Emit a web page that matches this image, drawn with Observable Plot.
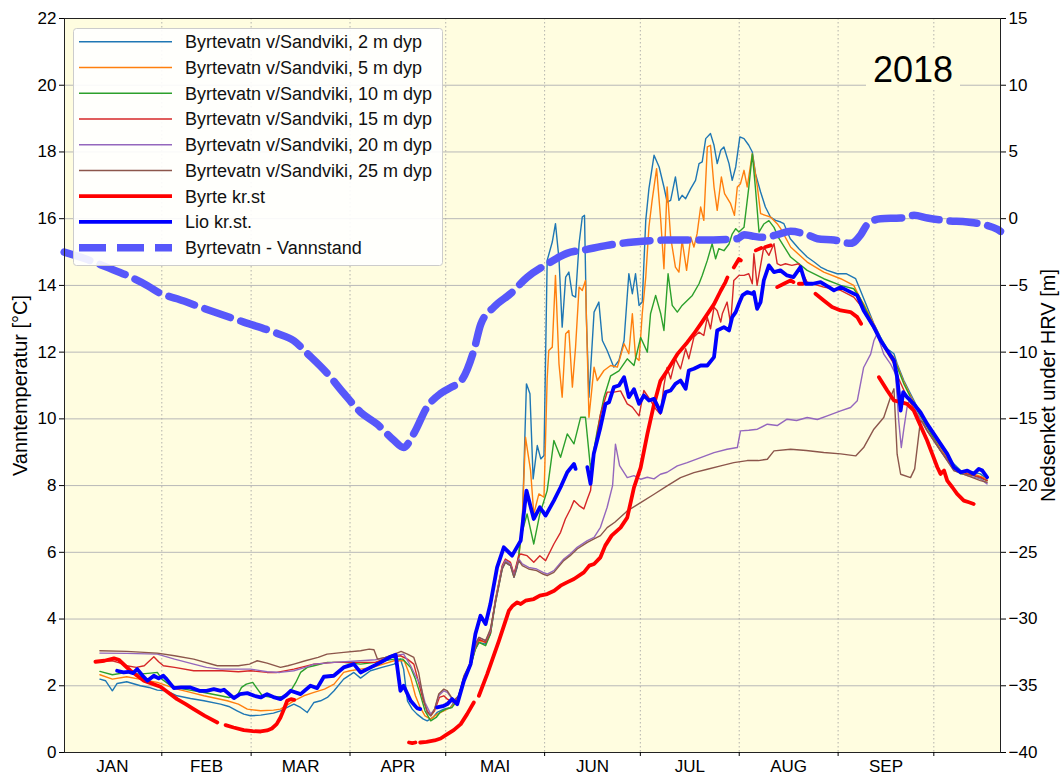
<!DOCTYPE html>
<html>
<head>
<meta charset="utf-8">
<script src="https://cdn.jsdelivr.net/npm/d3@7"></script>
<script src="https://cdn.jsdelivr.net/npm/@observablehq/plot@0.6"></script>
<style>
  body { margin: 0; background: #fff; }
  #chart { position: relative; width: 1063px; height: 778px; }
</style>
</head>
<body>
<div id="chart"></div>
<script>
// ---------- data (day of year, Jan 1 = 0) ----------
const monthLabels = ["JAN","FEB","MAR","APR","MAI","JUN","JUL","AUG","SEP"];
const monthMids = [15.5, 45, 74.5, 105, 135.5, 166, 196.5, 227.5, 258];
const monthStarts = [31, 59, 90, 120, 151, 181, 212, 243, 273];
const tempTicks = [0,2,4,6,8,10,12,14,16,18,20,22];
const yearLabel = "2018";

const seriesNames = [
  "Byrtevatn v/Sandviki, 2 m dyp",
  "Byrtevatn v/Sandviki, 5 m dyp",
  "Byrtevatn v/Sandviki, 10 m dyp",
  "Byrtevatn v/Sandviki, 15 m dyp",
  "Byrtevatn v/Sandviki, 20 m dyp",
  "Byrtevatn v/Sandviki, 25 m dyp",
  "Byrte kr.st",
  "Lio kr.st.",
  "Byrtevatn - Vannstand"
];

const d2m = [[11.6,2.2],[13.4,2.15],[15.5,1.85],[17,2.07],[20,2.12],[24.3,2.0],[27,1.95],[29.6,1.87],[32.5,1.85],[35.8,1.7],[40,1.62],[44.2,1.55],[49.4,1.45],[52,1.38],[54.6,1.25],[56.7,1.15],[58.8,1.1],[62,1.12],[64,1.15],[66,1.18],[68.2,1.25],[70.3,1.35],[72.4,1.45],[74.5,1.35],[76.6,1.2],[78.7,1.5],[80.8,1.55],[82.9,1.65],[85,1.85],[88,2.2],[91.2,2.4],[93.3,2.23],[96.4,2.45],[100,2.55],[103.8,2.65],[105.8,2.8],[106.8,2.5],[108,1.55],[109.5,1.3],[111,1.15],[113,1.0],[114.2,0.95],[116,1.05],[117.3,1.2],[119.4,1.3],[121.5,1.35],[122.5,1.5],[124.1,1.6],[125.7,2.2],[127.8,2.6],[129.3,3.1],[130.4,3.3],[132.5,3.25],[134,3.55],[135.6,4.5],[137.7,5.5],[138.7,5.7],[140.3,5.6],[141.4,5.25],[142.4,5.55],[144,6.85],[145.3,11.05],[146.4,10.75],[147.4,8.2],[148.7,9.2],[149.8,8.8],[150.8,8.9],[151.8,14.75],[153.4,15.3],[154.4,15.85],[155.5,14.8],[156.5,12.75],[157.6,14.25],[158.6,14.4],[159.7,13.7],[160.7,13.65],[161.8,15.25],[162.8,16.05],[163.5,16.1],[164.1,13.0],[164.9,10.65],[166.5,13.2],[168,13.5],[169.1,12.35],[170.6,12.05],[172.7,11.55],[174.3,11.75],[175.9,12.35],[177.4,14.35],[178.5,13.75],[179.5,14.35],[180.6,13.4],[181.6,13.5],[182.7,15.95],[183.7,16.9],[185.3,17.9],[186.9,17.55],[188.4,16.95],[189.4,16.5],[190.5,16.55],[192,17.25],[193.1,16.55],[194.1,16.7],[195.2,16.6],[196.8,16.9],[198.3,17.15],[199.4,17.65],[200.4,17.7],[201.5,18.4],[203,18.55],[204.1,18.2],[205.1,17.65],[206.2,18.05],[207.2,18.15],[208.8,17.65],[209.8,17.15],[210.9,17.55],[212.2,18.45],[213.5,18.4],[215,18.2],[216.1,18.0],[217.1,17.35],[218.7,16.8],[220.2,16.35],[221.8,16.05],[223.4,15.95],[225,15.9],[226,15.85],[228,15.4],[230.7,15.1],[233.3,14.85],[235.5,14.7],[237.5,14.55],[239.6,14.45],[242.7,14.35],[245.5,14.35],[248.5,14.2],[250,13.85],[252.1,13.35],[254.2,12.85],[256.3,12.45],[258.4,12.1],[260.5,11.95],[261.5,11.65],[263.6,11.15],[265.7,10.75],[267.8,10.35],[270.9,9.85],[275.1,9.15],[278.2,8.75],[281.4,8.45],[285.5,8.4],[287.6,8.35],[289.7,8.2]];

const d5m = [[11.6,2.33],[15.5,2.2],[20,2.27],[24,2.2],[29.6,2.1],[35.8,1.9],[40,1.8],[44.2,1.7],[51.5,1.55],[55,1.45],[57.8,1.3],[62,1.25],[66,1.27],[68.2,1.3],[72.4,1.55],[75.5,1.7],[78.7,1.8],[82,1.9],[85,2.05],[88,2.4],[90,2.45],[93.3,2.5],[97,2.55],[103.8,2.75],[107,2.75],[109,2.25],[110.5,1.7],[112,1.35],[113.5,1.1],[115.3,1.0],[117.3,1.15],[119.4,1.25],[121.5,1.35],[122.5,1.45],[124.1,1.6],[125.7,2.2],[127.8,2.6],[129.3,3.15],[130.4,3.35],[132.5,3.3],[134,3.6],[135.6,4.55],[137.7,5.55],[138.7,5.75],[140.3,5.65],[141.4,5.3],[142.9,5.85],[144,7.0],[145,9.45],[146.6,8.45],[147.6,7.15],[149.2,7.75],[150.8,7.65],[151.8,11.2],[152.3,12.05],[153.4,12.15],[154.4,14.3],[155.5,11.65],[156.5,10.65],[157.6,12.55],[158.6,12.65],[159.7,10.95],[160.7,12.15],[161.8,13.95],[162.8,13.85],[163.8,14.15],[164.9,10.05],[166.5,11.55],[167.5,11.15],[169.6,11.45],[171.7,11.6],[173.8,11.55],[175.9,12.25],[177.4,11.95],[178.5,13.15],[179.5,11.85],[180.6,11.75],[181.6,13.15],[182.7,14.25],[183.7,15.75],[184.7,16.55],[186.1,17.5],[187.4,15.95],[188.4,14.5],[189.4,16.95],[190.5,15.45],[192,14.55],[193.1,14.4],[194.1,15.35],[195.5,14.45],[196.8,15.45],[197.8,15.15],[198.8,15.55],[199.9,16.35],[200.9,15.95],[202,18.15],[203,18.2],[204.1,16.95],[205.1,16.25],[206.4,17.25],[207.4,16.75],[209.3,16.45],[210.5,16.1],[211.4,16.95],[212.4,17.05],[213.5,17.45],[214.5,16.95],[216.1,17.95],[217.7,16.95],[218.7,16.15],[220.2,16.1],[221.8,16.05],[223.9,15.85],[225,15.7],[228.1,15.15],[233.3,14.7],[238.5,14.4],[243.8,14.2],[247.9,14.0],[250,13.6],[251,13.45],[254.2,12.85],[256.3,12.4],[258.4,12.05],[260.5,11.85],[263.6,11.1],[265.7,10.7],[267.8,10.3],[270.9,9.8],[275.1,9.1],[278.2,8.7],[281.4,8.4],[285.5,8.35],[289.7,8.2]];

const d10m = [[11.6,2.43],[15.5,2.33],[20,2.4],[24,2.35],[27.5,2.38],[29.6,2.4],[31,2.2],[33.8,2.0],[38,1.9],[44.2,1.8],[49.4,1.7],[52,1.65],[54.6,1.7],[56,1.95],[57.5,2.05],[59.5,2.1],[61,1.9],[62.5,1.7],[66,1.65],[69,1.68],[71.4,1.85],[73,2.1],[74.5,2.4],[76.6,2.55],[78.7,2.6],[82.9,2.7],[88,2.7],[93.3,2.65],[98,2.7],[103.8,2.8],[106.5,2.8],[109,2.55],[110.5,2.2],[112,1.75],[113.5,1.25],[115.3,0.95],[117,1.05],[118.2,1.2],[120,1.3],[122,1.35],[123.5,1.55],[125.7,2.2],[127.8,2.6],[129.3,3.1],[130.4,3.3],[132.5,3.2],[134,3.55],[135.6,4.55],[137.7,5.55],[138.7,5.75],[140.3,5.65],[141.4,5.3],[142.9,5.85],[143.5,6.45],[145.5,7.15],[147.6,6.25],[149.5,7.15],[151.8,7.85],[153.9,9.35],[156,8.85],[158.1,9.55],[160.2,9.25],[162.3,10.05],[163.8,10.05],[165.4,8.5],[167.5,9.65],[169.6,10.64],[171.7,11.29],[174.3,11.44],[176.9,11.8],[179,11.6],[181.1,12.44],[183.2,12.0],[184.2,13.15],[185.8,13.7],[187.4,13.15],[188.4,12.65],[189.7,14.35],[191,13.4],[192.6,13.2],[194.1,13.4],[195.7,13.55],[197.3,13.7],[199.4,14.05],[200.4,14.3],[202,14.75],[203.5,15.25],[204.6,14.8],[205.6,15.1],[207.2,15.04],[208.8,15.24],[209.8,15.54],[210.9,15.7],[211.9,15.6],[213.5,15.74],[215,16.94],[216.1,17.94],[217.1,16.9],[218.2,15.6],[219.7,15.84],[221.3,15.94],[222.9,15.74],[224.5,15.4],[228.1,14.85],[233.3,14.45],[238.5,14.2],[243.8,14.0],[247.9,13.9],[250,13.6],[251,13.4],[254.2,12.8],[256.3,12.4],[258.4,12.0],[260.5,11.8],[263.6,11.05],[265.7,10.65],[267.8,10.25],[270.9,9.75],[275.1,9.05],[278.2,8.65],[281.4,8.35],[285.5,8.3],[289.7,8.15]];

const d15m = [[11.6,2.73],[15.5,2.75],[18,2.68],[20,2.6],[23,2.55],[25.5,2.6],[28.5,2.87],[30,2.72],[31.5,2.6],[35,2.55],[41,2.45],[45,2.45],[50,2.45],[55,2.42],[58.8,2.45],[64,2.4],[67,2.4],[72.4,2.5],[78.7,2.65],[85,2.7],[93.3,2.7],[98,2.7],[100,2.78],[103.8,2.87],[105.8,2.9],[108,2.8],[110,2.65],[111.5,2.1],[113,1.55],[114.2,1.25],[115.3,1.1],[116.5,1.25],[118,1.65],[119.4,1.7],[120.5,1.6],[122.5,1.5],[124.1,1.7],[125.7,2.25],[127.8,2.65],[129.3,3.15],[130.4,3.4],[132.5,3.3],[134,3.6],[135.6,4.6],[137.7,5.6],[138.7,5.8],[140.3,5.7],[141.4,5.35],[142.9,5.9],[143.5,5.95],[145.5,5.9],[147.6,5.7],[149.5,5.9],[151.3,5.75],[153.9,6.25],[156,6.6],[157.5,7.0],[159.1,7.3],[160.2,7.55],[161.8,7.4],[163.3,7.3],[164.4,7.6],[165.4,7.85],[166.4,8.9],[168.5,10.14],[170.6,10.8],[172.7,10.8],[174.8,10.84],[176.9,10.45],[178.5,10.35],[180.6,10.09],[182.1,10.85],[184.2,10.55],[185.8,10.3],[187.3,10.14],[188.4,11.0],[189.4,11.54],[190.5,11.2],[192,11.8],[193.6,11.5],[195.2,12.1],[196.2,11.8],[197.8,12.45],[199.4,12.6],[200.9,12.5],[202,13.04],[203,12.7],[204.1,13.35],[205.1,13.24],[206.2,12.9],[206.7,13.15],[208.2,13.5],[209.3,12.85],[210.3,14.15],[211.9,14.3],[213.5,14.3],[215,14.35],[216.1,14.05],[216.6,14.95],[217.6,14.0],[218.7,14.6],[219.7,15.15],[221.3,14.9],[222.9,15.25],[223.9,14.65],[225,14.6],[226.5,14.65],[228.5,14.6],[230.7,14.65],[231.7,14.4],[233.3,14.1],[238.5,13.95],[243.8,13.85],[247.9,13.65],[250,13.4],[252.1,13.05],[254.2,12.7],[257.3,12.15],[260.5,11.65],[262,11.2],[264.6,10.65],[267.8,10.15],[270.9,9.65],[275.1,9.05],[279.3,8.5],[283.5,8.35],[287.6,8.25],[289.7,8.15]];

const d20m = [[11.6,2.98],[20,2.97],[29.6,2.95],[35,2.8],[41,2.65],[45,2.55],[49.4,2.5],[55,2.5],[58.8,2.5],[64,2.42],[68,2.4],[72.4,2.45],[76,2.55],[78.7,2.65],[85,2.7],[93.3,2.75],[98,2.78],[103.8,2.9],[106.8,2.95],[109,2.6],[110.5,2.3],[112,2.05],[113.5,1.5],[115.3,1.15],[116.5,1.3],[117.8,1.7],[119.4,1.85],[120.5,1.8],[122.5,1.55],[124.1,1.7],[125.7,2.25],[127.8,2.65],[129.3,3.2],[130.4,3.45],[132.5,3.35],[134,3.65],[135.6,4.55],[137.7,5.55],[138.7,5.75],[140.3,5.65],[141.4,5.3],[142.9,5.8],[144,5.65],[146,5.55],[148.5,5.5],[150.5,5.4],[151.8,5.35],[153.9,5.45],[157,5.8],[159,5.95],[161.2,6.15],[164.4,6.35],[166.5,6.45],[168.5,6.75],[170.6,7.35],[172.3,8.0],[173.2,9.24],[174.5,8.6],[176.9,8.24],[179,8.3],[181.1,8.19],[183.2,8.25],[185.3,8.2],[187.3,8.34],[189.4,8.4],[192.6,8.59],[195.7,8.69],[199.9,8.84],[204.1,8.99],[208.2,9.09],[211.4,9.14],[212.4,9.64],[215,9.66],[217.7,9.69],[220.8,9.84],[223.9,9.8],[227,9.99],[230,9.95],[233.3,10.04],[236.5,9.98],[239.6,10.09],[243.8,10.24],[246.9,10.34],[249,10.54],[251,11.54],[253.2,11.94],[254.2,12.34],[255.2,12.54],[257.3,11.94],[259.4,11.65],[261,11.34],[262,9.94],[262.8,9.14],[263.6,9.7],[264.6,10.34],[265.7,10.65],[267.8,10.15],[270.9,9.65],[275.1,9.05],[279.3,8.45],[283.5,8.3],[287.6,8.2],[289.7,8.05]];

const d25m = [[11.6,3.05],[20,3.03],[29.6,2.98],[35,2.9],[41,2.8],[48.4,2.6],[55,2.6],[58.5,2.65],[60.9,2.75],[64,2.68],[68.2,2.55],[70.5,2.6],[72.4,2.65],[76,2.75],[80,2.85],[82.8,2.95],[88,3.0],[93.3,3.05],[96,3.1],[97.5,3.08],[98.6,2.8],[101,2.85],[104,2.95],[106,3.03],[108,2.95],[110,2.85],[111.5,2.4],[113,1.6],[114.2,1.2],[115.3,1.1],[116.5,1.3],[117.8,1.75],[119.4,1.9],[120.5,1.85],[122.5,1.55],[124.1,1.7],[125.7,2.3],[127.8,2.7],[129.3,3.25],[130.4,3.45],[132.5,3.35],[134,3.7],[135.6,4.5],[137.7,5.5],[138.7,5.7],[140.3,5.6],[141.4,5.25],[142.9,5.75],[144,5.6],[146,5.5],[148.5,5.45],[150.5,5.35],[151.8,5.3],[153.9,5.4],[157,5.75],[159,5.9],[161.2,6.1],[164.4,6.3],[166.5,6.4],[168.5,6.5],[170.6,6.74],[173,6.9],[176.9,7.24],[181.1,7.49],[185.3,7.74],[189.4,7.99],[193.6,8.24],[197.8,8.39],[202,8.49],[206.2,8.59],[210.3,8.69],[214.5,8.75],[218,8.75],[220.8,8.79],[222.9,9.04],[228.1,9.09],[233,9.05],[238.5,8.99],[243.8,8.95],[248.5,8.89],[251,9.14],[254.2,9.69],[257.3,10.04],[259.4,10.64],[260.5,10.9],[261.5,8.94],[262.6,8.34],[265.7,8.24],[267,8.5],[268.8,9.94],[269.5,9.9],[270.9,9.65],[275.1,9.05],[279.3,8.45],[283.5,8.3],[287.6,8.15],[289.7,8.1]];

const byrte = [[10.2,2.72],[13,2.75],[16,2.82],[17.5,2.78],[19.5,2.6],[21.2,2.45],[23.3,2.3],[25.4,2.15],[27.5,2.08],[30.6,1.97],[33,1.8],[35.8,1.6],[38.5,1.45],[41,1.3],[44.5,1.1],[48.4,0.9],[49.6,null],[51,0.82],[53.5,0.75],[56.7,0.67],[59.5,0.64],[62,0.63],[64,0.66],[65.5,0.72],[67,0.85],[68.2,1.05],[69.3,1.3],[70.3,1.55],[71.5,1.6],[72.5,1.58],[90,null],[108.5,0.3],[109.5,0.28],[110.5,0.3],[111.2,null],[112,0.3],[114,0.32],[116.5,0.36],[118.4,0.42],[120.5,0.55],[122.5,0.67],[124.7,0.85],[126.7,1.15],[128.8,1.5],[129.6,null],[130.4,1.7],[133,2.35],[136.7,3.35],[139.8,4.25],[141,4.4],[142.4,4.5],[143.5,4.45],[145,4.55],[147.6,4.6],[149.5,4.7],[151.8,4.75],[154,4.85],[156,5.0],[158,5.1],[160.2,5.2],[163.3,5.4],[165,5.6],[166.5,5.65],[168.5,5.85],[170,6.2],[172,6.5],[174.8,6.74],[176.9,7.04],[179,7.94],[181.1,8.54],[183.2,9.54],[185.3,10.44],[187.3,11.14],[189.4,11.44],[192.6,11.94],[195.7,12.29],[197.8,12.55],[199.9,12.84],[202,13.14],[204.1,13.44],[206.2,13.84],[207.7,14.1],[208.3,14.24],[209.3,null],[210.3,14.54],[211.9,14.79],[212.5,14.75],[215,null],[217.2,15.05],[218.9,15.12],[219.5,null],[220.2,15.15],[221.9,15.2],[223,null],[223.9,13.95],[226,14.05],[228.1,14.15],[229,14.1],[230,null],[230.7,14.05],[231.9,14.05],[234,null],[235.9,13.75],[238.5,13.55],[241.1,13.35],[243.8,13.25],[246.9,13.2],[249,13.05],[250.2,12.85],[253,null],[255.8,11.25],[258.4,10.85],[260.5,10.55],[262.6,10.5],[264.6,10.45],[266.7,10.25],[268.8,9.8],[270.9,9.35],[272.5,8.95],[274.1,8.55],[275.1,8.35],[276.2,8.45],[277.2,8.15],[278.8,7.95],[280.3,7.75],[282.4,7.55],[284,7.5],[285.5,7.45]];

const lio = [[17,2.45],[19,2.4],[20.5,2.42],[22,2.38],[23.3,2.5],[25,2.3],[26.5,2.15],[28.5,2.3],[30,2.22],[31.5,2.3],[32.5,2.2],[34.8,1.93],[37,1.95],[40,1.95],[42.8,1.85],[45,1.85],[47.3,1.9],[49.5,1.85],[50.5,1.88],[53.6,1.63],[55.5,1.75],[57.8,1.78],[60,1.7],[62,1.65],[64,1.75],[66.3,1.65],[68.2,1.6],[70,1.72],[71.4,1.85],[74.5,1.75],[77.6,2.0],[79.7,1.93],[81.8,2.27],[84.9,2.3],[88,2.55],[91.2,2.65],[93.3,2.4],[95.4,2.5],[99.6,2.7],[102.7,2.87],[104.3,2.93],[105.8,1.85],[106.8,2.0],[109,1.55],[111,1.33],[112,1.3],[114,null],[117.3,1.35],[119.4,1.4],[120.5,1.45],[122,1.6],[123.6,1.45],[125.7,2.15],[127.8,2.65],[129.3,3.55],[130.9,4.1],[132.5,3.85],[134,4.45],[136.1,5.55],[138.2,6.15],[140.8,5.9],[143.5,6.35],[145.3,7.85],[147.6,7.0],[149.5,7.35],[151.3,7.1],[153.9,7.55],[156,7.95],[158.1,8.4],[160.2,8.65],[160.7,8.5],[162.5,null],[164.4,8.55],[165.4,8.05],[166.4,8.95],[168.5,9.75],[170.1,10.45],[171.2,10.5],[172.7,10.95],[174.3,11.0],[175.9,11.25],[177.4,10.65],[179,10.89],[180.6,10.45],[182.1,10.7],[183.7,10.55],[185.3,10.6],[187.3,10.2],[188.9,10.8],[190.5,10.85],[192,11.05],[193.6,11.15],[195.2,10.9],[196.2,11.45],[197.8,11.5],[199.9,11.6],[202,11.6],[204.1,11.85],[205.1,12.65],[207.2,12.75],[208.8,12.65],[209.8,13.05],[210.9,13.2],[211.9,13.45],[213,13.7],[214.5,13.8],[216,13.75],[216.6,13.8],[217.6,13.3],[218.7,13.5],[219.7,14.15],[221.3,14.6],[222.9,14.4],[224.9,14.45],[227,14.3],[229,14.25],[231.2,14.55],[232.8,14.05],[235,14.05],[237.5,14.1],[240.1,13.95],[241.7,13.85],[243.8,13.95],[246.9,13.8],[249,13.7],[251,13.25],[254.2,12.75],[256.3,12.35],[258.4,12.05],[260.5,11.75],[261.5,11.25],[262.6,10.25],[263.4,10.8],[264.6,10.65],[266.7,10.45],[268.8,10.2],[270.9,9.85],[273,9.55],[275.1,9.25],[277.2,8.95],[279.3,8.55],[281.4,8.4],[283.5,8.45],[285.5,8.35],[287.1,8.5],[288.2,8.45],[289.7,8.25]];

// water level, metres relative to HRV (right axis)
const vannstand = [[0.4,-2.5],[7,-3.0],[13.9,-3.65],[20.1,-4.25],[26.4,-5.0],[30.6,-5.6],[35.8,-6.0],[46.3,-6.9],[56.7,-7.75],[67.2,-8.6],[72.4,-9.15],[76.6,-10.1],[82.9,-11.6],[88.1,-13.1],[93.3,-14.5],[98.5,-15.4],[103.7,-16.6],[106.8,-17.15],[110,-16.1],[114.2,-14.1],[118.4,-13.1],[122,-12.6],[124.7,-12.2],[128.9,-9.8],[131,-7.9],[135.2,-6.6],[140.4,-5.6],[145.5,-4.4],[151.8,-3.4],[158,-2.6],[164.3,-2.3],[170.6,-2.0],[178.9,-1.75],[189.4,-1.6],[199.9,-1.6],[211.4,-1.5],[213.5,-1.2],[216,-1.3],[219.8,-1.4],[223.9,-1.2],[228.1,-0.95],[233.3,-1.2],[236.5,-1.5],[241.7,-1.6],[246.9,-1.85],[250.1,-1.2],[252.1,-0.45],[256.3,0.0],[262.6,0.05],[266.8,0.25],[271,0.05],[277.2,-0.15],[283.5,-0.25],[288.7,-0.45],[292.9,-0.8],[293.9,-0.95]];

// ---------- style ----------
const depthColors = ["#1f77b4","#ff7f0e","#2ca02c","#d62728","#9467bd","#8c564b"];
const byrteColor = "#ff0000", lioColor = "#0000ff", vannColor = "#5757fa";
const bg = "#fffde0";
const font = "'Liberation Sans', Arial, sans-serif";
const toLeft = m => (m + 40) * 22 / 55;     // right axis (m) -> left axis (°C)
const rightFmt = t => { const m = Math.round(t * 2.5 - 40); return m < 0 ? "\u2212" + Math.abs(m) : String(m); };

const depthSeries = [d2m, d5m, d10m, d15m, d20m, d25m];
const X = d => d[0], Y = d => d[1];

const plot = Plot.plot({
  width: 1063,
  height: 778,
  marginLeft: 64,
  marginRight: 63,
  marginTop: 18,
  marginBottom: 26,
  style: { fontFamily: font, background: "white", color: "#000", overflow: "visible" },
  x: { domain: [0.5, 293.9], axis: null },
  y: { domain: [0, 22], axis: null },
  marks: [
    Plot.frame({ fill: bg }),
    Plot.ruleY(tempTicks, { stroke: "#b8b8b8", strokeWidth: 1 }),
    Plot.ruleX(monthStarts, { stroke: "#a0a0a0", strokeWidth: 0.8, strokeDasharray: "1.5,2.5" }),
    ...depthSeries.map((s, i) => Plot.line(s, { x: X, y: Y, stroke: depthColors[i], strokeWidth: 1.4 })),
    Plot.line(byrte, { x: X, y: Y, stroke: byrteColor, strokeWidth: 3.8 }),
    Plot.line(lio, { x: X, y: Y, stroke: lioColor, strokeWidth: 3.8 }),
    Plot.line(vannstand, { x: X, y: d => toLeft(d[1]), stroke: vannColor, strokeWidth: 7.5, strokeDasharray: "27,11", curve: "monotone-x" }),
    Plot.frame({ stroke: "#222", strokeWidth: 1 }),
    Plot.axisY({ anchor: "left", ticks: tempTicks, tickSize: 5, tickPadding: 3, fontSize: 17, label: null }),
    Plot.axisY({ anchor: "right", ticks: tempTicks, tickSize: 5, tickPadding: 3, fontSize: 17, tickFormat: rightFmt, label: null }),
    Plot.axisX({ ticks: monthStarts, tickSize: 4, tickFormat: () => "", label: null }),
    Plot.axisX({ ticks: monthMids, tickSize: 0, tickPadding: 7, fontSize: 17, tickFormat: d => monthLabels[monthMids.indexOf(d)], label: null }),
    Plot.text(["Vanntemperatur [°C]"], { frameAnchor: "left", textAnchor: "middle", dx: -44, rotate: -90, fontSize: 20, fill: "#000" }),
    Plot.text(["Nedsenket under HRV [m]"], { frameAnchor: "right", textAnchor: "middle", dx: 48, rotate: -90, fontSize: 20, fill: "#000" })
  ]
});

document.getElementById("chart").appendChild(plot);

// ---------- legend & year label (drawn on top) ----------
const svg = d3.select(plot);
const lg = svg.append("g").attr("font-family", font).attr("text-anchor", "start");
lg.append("rect").attr("x", 73.5).attr("y", 28.5).attr("width", 369).attr("height", 237)
  .attr("rx", 3).attr("fill", "white").attr("fill-opacity", 0.9).attr("stroke", "#cccccc");
const legendStyles = [
  ...depthColors.map(c => ({ stroke: c, w: 1.5, dash: null })),
  { stroke: byrteColor, w: 3.8, dash: null },
  { stroke: lioColor, w: 3.8, dash: null },
  { stroke: vannColor, w: 7.5, dash: "27,11" }
];
seriesNames.forEach((name, i) => {
  const cy = 41.7 + i * 25.75;
  const st = legendStyles[i];
  lg.append("line").attr("x1", 79).attr("x2", 172).attr("y1", cy).attr("y2", cy)
    .attr("stroke", st.stroke).attr("stroke-width", st.w).attr("stroke-dasharray", st.dash);
  lg.append("text").attr("x", 185).attr("y", cy).attr("dy", "0.35em")
    .attr("text-anchor", "start").attr("font-size", 18).attr("fill", "#111").text(name);
});

const yr = svg.append("g").attr("font-family", font);
yr.append("rect").attr("x", 866).attr("y", 50).attr("width", 94).attr("height", 40).attr("fill", bg);
yr.append("text").attr("x", 913).attr("y", 82).attr("text-anchor", "middle")
  .attr("font-size", 36).attr("fill", "#000").text(yearLabel);
</script>
</body>
</html>
